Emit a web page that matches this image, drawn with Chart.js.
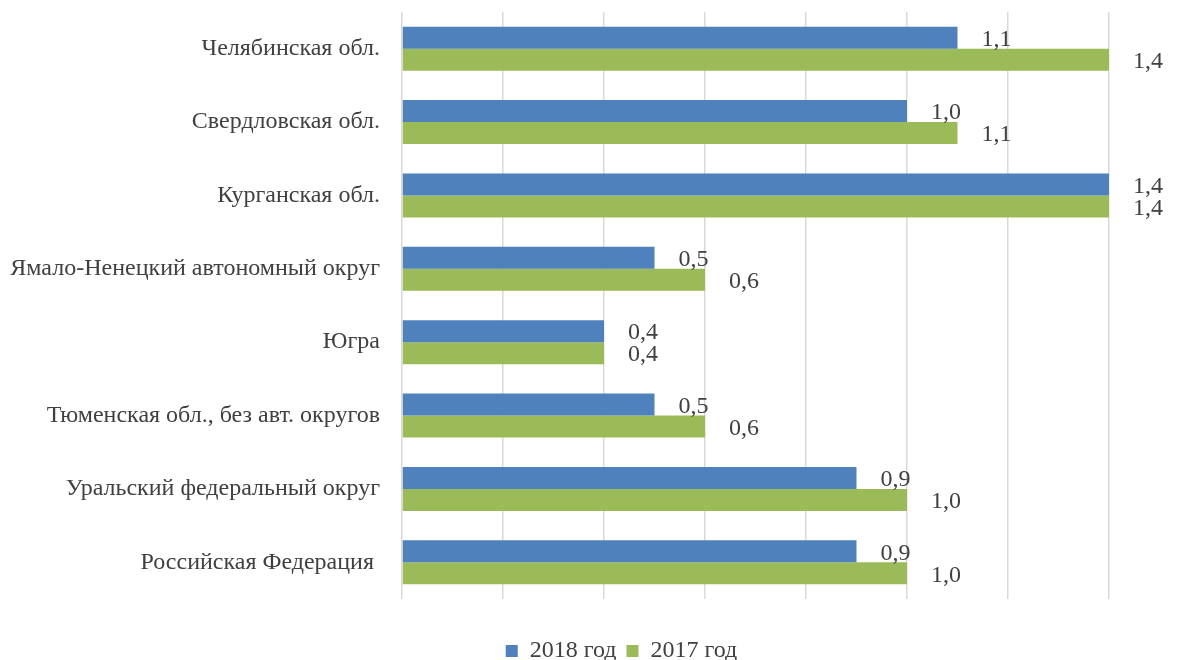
<!DOCTYPE html>
<html>
<head>
<meta charset="utf-8">
<script src="https://cdn.jsdelivr.net/npm/chart.js@4"></script>
<style>
  html, body { margin: 0; padding: 0; background: #fff; }
  #wrap { width: 1200px; height: 660px; }
</style>
</head>
<body>
<div id="wrap"><canvas id="chart"></canvas></div>
<script>
// regions, top to bottom
const REGIONS = [
  'Челябинская обл.',
  'Свердловская обл.',
  'Курганская обл.',
  'Ямало-Ненецкий автономный округ',
  'Югра',
  'Тюменская обл., без авт. округов',
  'Уральский федеральный округ',
  'Российская Федерация ',
];
const VALUES_2018 = [1.1, 1.0, 1.4, 0.5, 0.4, 0.5, 0.9, 0.9];
const VALUES_2017 = [1.4, 1.1, 1.4, 0.6, 0.4, 0.6, 1.0, 1.0];
const X_MAX = 1.4;
const X_STEP = 0.2;

const FONT = 'Liberation Serif, "Times New Roman", serif';
const TEXT = '#404040';

// value labels to the right of each bar, comma decimal
const barLabels = {
  id: 'barLabels',
  afterDatasetsDraw(chart) {
    const { ctx } = chart;
    ctx.save();
    ctx.font = `24px ${FONT}`;
    ctx.fillStyle = TEXT;
    ctx.textAlign = 'left';
    ctx.textBaseline = 'middle';
    chart.data.datasets.forEach((ds, di) => {
      chart.getDatasetMeta(di).data.forEach((bar, i) => {
        const txt = ds.data[i].toFixed(1).replace('.', ',');
        ctx.fillText(txt, bar.x + 24, bar.y + 2);
      });
    });
    ctx.restore();
  },
};

// legend in the original is centred a bit right of the page middle
const shiftLegend = {
  id: 'shiftLegend',
  afterLayout(chart) {
    if (chart.legend) {
      chart.legend.left = 134;
      chart.legend.right = 1109;
    }
  },
};

new Chart(document.getElementById('chart'), {
  type: 'bar',
  data: {
    labels: REGIONS,
    datasets: [
      { label: '2018 год', data: VALUES_2018, backgroundColor: '#4F81BD' },
      { label: '2017 год', data: VALUES_2017, backgroundColor: '#9BBB59' },
    ],
  },
  options: {
    indexAxis: 'y',
    responsive: true,
    maintainAspectRatio: false,
    animation: false,
    layout: { padding: { top: 12, right: 91, left: 0, bottom: -13 } },
    datasets: { bar: { categoryPercentage: 0.6, barPercentage: 1.0 } },
    scales: {
      x: {
        min: 0,
        max: X_MAX,
        ticks: { display: false, stepSize: X_STEP },
        grid: { color: '#D9D9D9', lineWidth: 1.5, drawTicks: false },
        border: { display: false },
        afterFit: (s) => { s.height = 30; },
      },
      y: {
        grid: { display: false, drawTicks: false },
        border: { display: false },
        ticks: { color: TEXT, font: { family: FONT, size: 24 }, padding: 22 },
        afterFit: (s) => {
          s.width = 402;
          s.paddingTop = 0;
          s.paddingBottom = 0;
        },
      },
    },
    plugins: {
      legend: {
        position: 'bottom',
        labels: {
          color: TEXT,
          font: { family: FONT, size: 24, lineHeight: 1 },
          boxWidth: 12,
          boxHeight: 12,
          padding: 10,
        },
      },
      tooltip: { enabled: false },
    },
  },
  plugins: [barLabels, shiftLegend],
});
</script>
</body>
</html>
